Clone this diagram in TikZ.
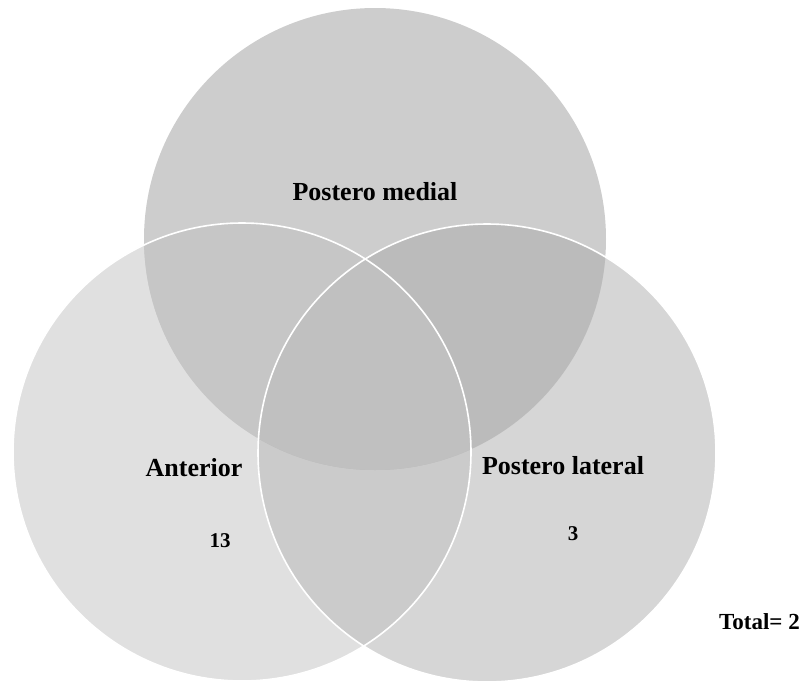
\documentclass[tikz,border=0pt]{standalone}
\usepackage{fontspec}
\setmainfont{Liberation Serif}
\begin{document}
\begin{tikzpicture}[x=1pt,y=-1pt,
  lbl/.style={font=\bfseries\fontsize{26}{30}\selectfont, inner sep=0pt},
  num/.style={font=\bfseries\fontsize{21}{24}\selectfont, inner sep=0pt},
  ring/.style={draw=white, line width=1.6pt}]
\useasboundingbox (0,0) rectangle (804,683);
\def\TopC{(375,239) circle[radius=231]}
\def\LeftC{(242,452) circle[radius=229]}
\def\RightC{(487,453) circle[radius=229]}
% single regions
\fill[fill={rgb,255:red,224;green,224;blue,224}] \LeftC;
\fill[fill={rgb,255:red,214;green,214;blue,214}] \RightC;
\begin{scope}\clip \LeftC; \fill[fill={rgb,255:red,203;green,203;blue,203}] \RightC; \end{scope}
\fill[fill={rgb,255:red,205;green,205;blue,205}] \TopC;
\begin{scope}\clip \TopC; \fill[fill={rgb,255:red,198;green,198;blue,198}] \LeftC; \end{scope}
\begin{scope}\clip \TopC; \fill[fill={rgb,255:red,187;green,187;blue,187}] \RightC; \end{scope}
\begin{scope}\clip \TopC; \clip \LeftC; \fill[fill={rgb,255:red,192;green,192;blue,192}] \RightC; \end{scope}
% outlines
\draw[ring] \LeftC;
\draw[ring] \RightC;
% labels
\node[lbl] (pm) at (375,192) {Postero medial};
\node[lbl] (ant) at (194,468) {Anterior};
\node[lbl] (pl) at (563,466) {Postero lateral};
\node[num] (n13) at (220,541) {13};
\node[num] (n3) at (573,534) {3};
\node[font=\bfseries\fontsize{23}{26}\selectfont, inner sep=0pt, anchor=east] (tot) at (800,622) {Total= 2};
\end{tikzpicture}
\end{document}
